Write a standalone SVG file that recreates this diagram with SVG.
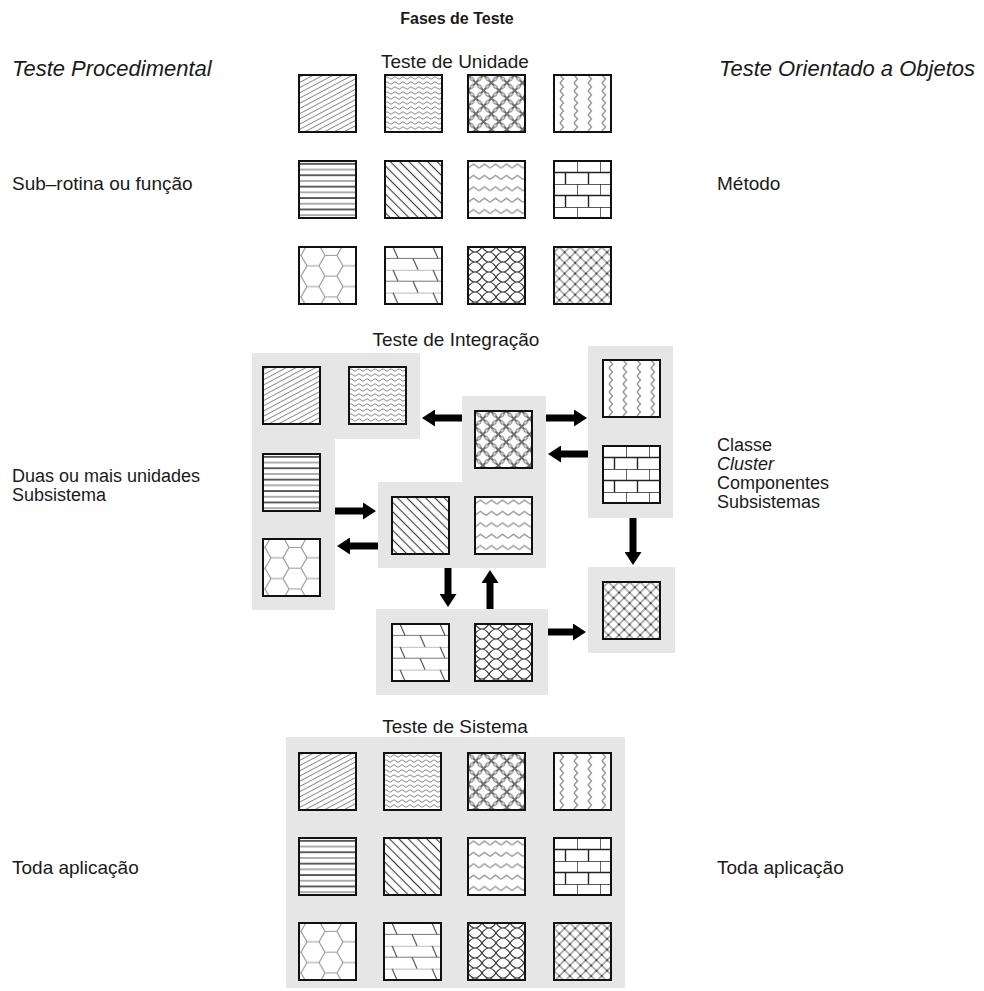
<svg xmlns="http://www.w3.org/2000/svg" xmlns:xlink="http://www.w3.org/1999/xlink" width="984" height="991" viewBox="0 0 984 991">
<style>
text{font-family:"Liberation Sans",Arial,sans-serif;fill:#1a1a1a;font-size:19px}
.it{font-style:italic;font-size:22px}
.h{font-weight:bold;font-size:16px}
.mid{text-anchor:middle}
.sm{font-size:18px}
.bg{fill:#e6e6e6}
.b{stroke:#111;stroke-width:2}
.arr{stroke:#000;stroke-width:7;fill:none;marker-end:url(#ah)}
</style>
<defs>
<marker id="ah" viewBox="0 0 13 17" refX="2" refY="8.5" markerWidth="13" markerHeight="17" markerUnits="userSpaceOnUse" orient="auto">
<path d="M0 0 L13 8.5 L0 17 Z" fill="#000"/>
</marker>
<pattern id="p1" patternUnits="userSpaceOnUse" width="8" height="4.6" patternTransform="rotate(-28)"><line x1="0" y1="2.3" x2="8" y2="2.3" stroke="#8a8a8a" stroke-width="1"/></pattern>
<pattern id="p2" patternUnits="userSpaceOnUse" width="8" height="5"><path d="M0 3 Q2 0.5 4 3 Q6 5.5 8 3" stroke="#8a8a8a" stroke-width="1" fill="none"/></pattern>
<pattern id="p3" patternUnits="userSpaceOnUse" width="11" height="11" patternTransform="rotate(45)"><path d="M0 0 Q5.5 2.5 11 0 M0 11 Q5.5 8.5 11 11 M0 0 Q2.5 5.5 0 11 M11 0 Q8.5 5.5 11 11" stroke="#555" stroke-width="1" fill="none"/></pattern>
<pattern id="p4" patternUnits="userSpaceOnUse" width="14" height="8"><path d="M6 0 L9.5 4 L6 8" stroke="#9a9a9a" stroke-width="1.5" fill="none"/></pattern>
<pattern id="p5" patternUnits="userSpaceOnUse" width="57" height="11.4"><line x1="0" y1="2.85" x2="57" y2="2.85" stroke="#222" stroke-width="1.3"/><line x1="0" y1="8.55" x2="57" y2="8.55" stroke="#555" stroke-width="1.1"/></pattern>
<pattern id="p6" patternUnits="userSpaceOnUse" width="6.6" height="10" patternTransform="rotate(-45)"><line x1="3.3" y1="0" x2="3.3" y2="10" stroke="#444" stroke-width="1.2"/></pattern>
<pattern id="p7" patternUnits="userSpaceOnUse" width="11" height="11.4"><path d="M0 7 L5.5 3 L11 7" stroke="#9a9a9a" stroke-width="1.5" fill="none"/></pattern>
<pattern id="p8" patternUnits="userSpaceOnUse" width="23" height="23"><path d="M0 0 H23 M0 11.5 H23 M0 0 V11.5 M11.5 11.5 V23" stroke="#222" stroke-width="1.4" fill="none"/></pattern>
<pattern id="p9" patternUnits="userSpaceOnUse" width="36" height="20.78" patternTransform="translate(-4 -2)"><path d="M12 0 H24 L30 10.39 H36 M30 10.39 L24 20.78 H12 L6 10.39 H0 M6 10.39 L12 0" stroke="#999" stroke-width="1.2" fill="none"/></pattern>
<pattern id="p10" patternUnits="userSpaceOnUse" width="40" height="22.8"><path d="M0 0 H40 M0 11.4 H40" stroke="#777" stroke-width="1.1" fill="none"/><path d="M8 0 L13 11.4 M28 11.4 L33 22.8" stroke="#555" stroke-width="1.2" fill="none"/></pattern>
<pattern id="p11" patternUnits="userSpaceOnUse" width="14" height="10"><path d="M0 0 Q7 10 14 0 M0 10 Q7 0 14 10" stroke="#333" stroke-width="1.1" fill="none"/></pattern>
<pattern id="p12" patternUnits="userSpaceOnUse" width="7.5" height="7.5" patternTransform="rotate(45)"><path d="M0 3.75 H7.5 M3.75 0 V7.5" stroke="#666" stroke-width="1" fill="none"/><circle cx="3.75" cy="3.75" r="1" fill="#333"/></pattern>
<g id="t1"><rect width="57" height="57" fill="#fff"/><rect width="57" height="57" fill="url(#p1)" class="b"/></g>
<g id="t2"><rect width="57" height="57" fill="#fff"/><rect width="57" height="57" fill="url(#p2)" class="b"/></g>
<g id="t3"><rect width="57" height="57" fill="#fff"/><rect width="57" height="57" fill="url(#p3)" class="b"/></g>
<g id="t4"><rect width="57" height="57" fill="#fff"/><rect width="57" height="57" fill="url(#p4)" class="b"/></g>
<g id="t5"><rect width="57" height="57" fill="#fff"/><rect width="57" height="57" fill="url(#p5)" class="b"/></g>
<g id="t6"><rect width="57" height="57" fill="#fff"/><rect width="57" height="57" fill="url(#p6)" class="b"/></g>
<g id="t7"><rect width="57" height="57" fill="#fff"/><rect width="57" height="57" fill="url(#p7)" class="b"/></g>
<g id="t8"><rect width="57" height="57" fill="#fff"/><rect width="57" height="57" fill="url(#p8)" class="b"/></g>
<g id="t9"><rect width="57" height="57" fill="#fff"/><rect width="57" height="57" fill="url(#p9)" class="b"/></g>
<g id="t10"><rect width="57" height="57" fill="#fff"/><rect width="57" height="57" fill="url(#p10)" class="b"/></g>
<g id="t11"><rect width="57" height="57" fill="#fff"/><rect width="57" height="57" fill="url(#p11)" class="b"/></g>
<g id="t12"><rect width="57" height="57" fill="#fff"/><rect width="57" height="57" fill="url(#p12)" class="b"/></g>
</defs>
<rect width="984" height="991" fill="#fff"/>

<g id="labels">
<text class="h mid" x="457" y="24">Fases de Teste</text>
<text class="mid" x="455" y="68">Teste de Unidade</text>
<text class="it" x="12" y="76">Teste Procedimental</text>
<text class="it" x="719" y="76">Teste Orientado a Objetos</text>
<text x="12" y="190">Sub–rotina ou função</text>
<text x="717" y="190">Método</text>
<text class="mid" x="456" y="346">Teste de Integração</text>
<text class="sm" x="12" y="482">Duas ou mais unidades</text>
<text class="sm" x="12" y="501">Subsistema</text>
<text class="sm" x="717" y="451">Classe</text>
<text class="sm" x="717" y="470" style="font-style:italic">Cluster</text>
<text class="sm" x="717" y="489">Componentes</text>
<text class="sm" x="717" y="508">Subsistemas</text>
<text class="mid" x="455" y="733">Teste de Sistema</text>
<text x="12" y="874">Toda aplicação</text>
<text x="717" y="874">Toda aplicação</text>
</g>

<g id="unit-test">
<use xlink:href="#t1" x="299" y="75"/><use xlink:href="#t2" x="385" y="75"/><use xlink:href="#t3" x="468" y="75"/><use xlink:href="#t4" x="554" y="75"/>
<use xlink:href="#t5" x="299" y="161"/><use xlink:href="#t6" x="385" y="161"/><use xlink:href="#t7" x="468" y="161"/><use xlink:href="#t8" x="554" y="161"/>
<use xlink:href="#t9" x="299" y="247"/><use xlink:href="#t10" x="385" y="247"/><use xlink:href="#t11" x="468" y="247"/><use xlink:href="#t12" x="554" y="247"/>
</g>

<g id="int-left">
<path class="bg" d="M252 353 H420 V439 H335 V610 H252 Z"/>
<use xlink:href="#t1" x="263" y="367"/><use xlink:href="#t2" x="349" y="367"/>
<use xlink:href="#t5" x="263" y="454"/><use xlink:href="#t9" x="263" y="539"/>
</g>
<g id="int-center">
<path class="bg" d="M462 396 H546 V568 H378 V482 H462 Z"/>
<use xlink:href="#t3" x="475" y="411"/>
<use xlink:href="#t6" x="392" y="497"/><use xlink:href="#t7" x="475" y="497"/>
</g>
<g id="int-right">
<rect class="bg" x="588" y="346" width="85" height="172"/>
<use xlink:href="#t4" x="603" y="360"/><use xlink:href="#t8" x="603" y="446"/>
</g>
<g id="int-bottom">
<rect class="bg" x="376" y="609" width="172" height="86"/>
<use xlink:href="#t10" x="392" y="624"/><use xlink:href="#t11" x="475" y="624"/>
</g>
<g id="int-bottom-right">
<rect class="bg" x="588" y="567" width="87" height="86"/>
<use xlink:href="#t12" x="603" y="582"/>
</g>

<g id="connectors">
<line class="arr" x1="462" y1="418" x2="433" y2="418"/>
<line class="arr" x1="546" y1="418" x2="576" y2="418"/>
<line class="arr" x1="588" y1="454" x2="559" y2="454"/>
<line class="arr" x1="335" y1="511" x2="365" y2="511"/>
<line class="arr" x1="378" y1="546" x2="348" y2="546"/>
<line class="arr" x1="448" y1="568" x2="448" y2="596"/>
<line class="arr" x1="490" y1="609" x2="490" y2="581"/>
<line class="arr" x1="633" y1="518" x2="633" y2="554"/>
<line class="arr" x1="548" y1="632" x2="575" y2="632"/>
</g>

<g id="system-test">
<rect class="bg" x="286" y="737" width="339" height="251"/>
<use xlink:href="#t1" x="299" y="753"/><use xlink:href="#t2" x="384" y="753"/><use xlink:href="#t3" x="468" y="753"/><use xlink:href="#t4" x="554" y="753"/>
<use xlink:href="#t5" x="299" y="838"/><use xlink:href="#t6" x="384" y="838"/><use xlink:href="#t7" x="468" y="838"/><use xlink:href="#t8" x="554" y="838"/>
<use xlink:href="#t9" x="299" y="923"/><use xlink:href="#t10" x="384" y="923"/><use xlink:href="#t11" x="468" y="923"/><use xlink:href="#t12" x="554" y="923"/>
</g>
</svg>
